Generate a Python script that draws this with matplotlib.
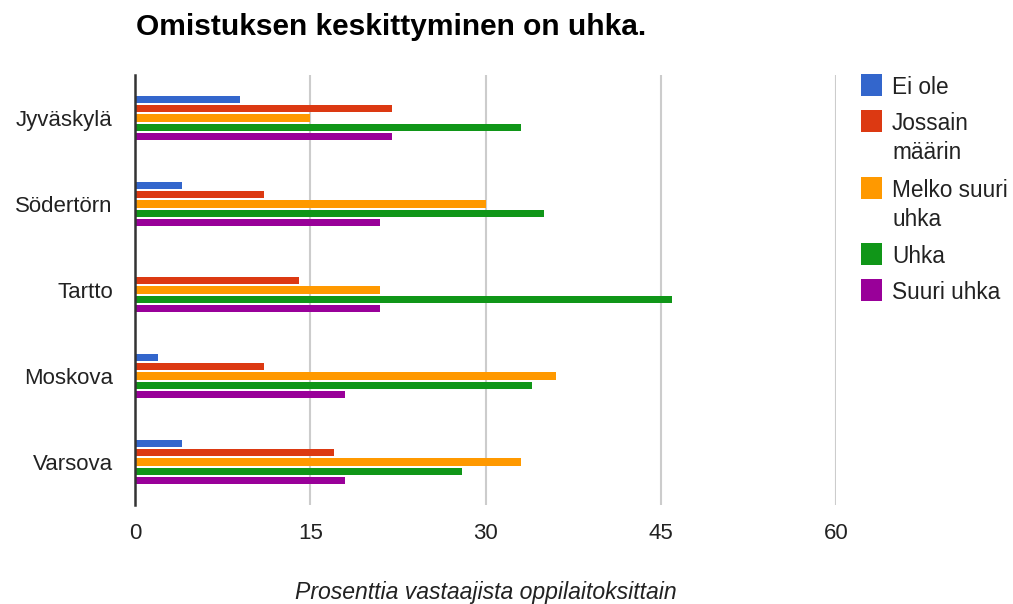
import matplotlib
matplotlib.use("Agg")
import matplotlib.pyplot as plt
from matplotlib.patches import Rectangle

# data
cities = ["Jyväskylä", "Södertörn", "Tartto", "Moskova", "Varsova"]
series = ["Ei ole", "Jossain\nmäärin", "Melko suuri\nuhka", "Uhka", "Suuri uhka"]
colors = ["#3366cc", "#dc3912", "#ff9900", "#109618", "#990099"]

ei_ole = [9, 4, 0, 2, 4]
jossain = [22, 11, 14, 11, 17]
melko = [15, 30, 21, 36, 33]
uhka = [33, 35, 46, 34, 28]
suuri = [22, 21, 21, 18, 18]
values = [ei_ole, jossain, melko, uhka, suuri]

xticks = [0, 15, 30, 45, 60]

plt.rcParams["font.family"] = ["Liberation Sans", "DejaVu Sans"]

W, H = 1013, 604
fig = plt.figure(figsize=(W / 100, H / 100), dpi=100)
ax = fig.add_axes([135 / W, 1 - 505 / H, (836 - 135) / W, (505 - 75) / H])

pitch = 0.109
height = 0.086
for j, (vals, col) in enumerate(zip(values, colors)):
    ys = [i + (j - 2) * pitch for i in range(len(cities))]
    ax.barh(ys, vals, height=height, color=col, edgecolor="none", zorder=3)

ax.set_xlim(0, 60)
ax.set_ylim(len(cities) - 0.5, -0.5)
ax.set_xticks(xticks)
ax.set_xticklabels([str(t) for t in xticks])
ax.set_yticks(range(len(cities)))
ax.set_yticklabels(cities)
ax.tick_params(axis="both", length=0, labelsize=16, colors="#222222")
ax.tick_params(axis="x", pad=13)
ax.tick_params(axis="y", pad=16)

ax.grid(axis="x", color="#cccccc", linewidth=1.5, zorder=0)
for s in ["top", "right", "bottom"]:
    ax.spines[s].set_visible(False)
ax.spines["left"].set_color("#333333")
ax.spines["left"].set_linewidth(1.8)
ax.spines["left"].set_zorder(4)

fig.text(136 / W, 1 - 27 / H, "Omistuksen keskittyminen on uhka.",
         fontsize=21.5, fontweight="bold", color="black", va="center", ha="left")
fig.text(486 / W, 1 - 592 / H, "Prosenttia vastaajista oppilaitoksittain",
         fontsize=16.6, style="italic", color="#222222", ha="center", va="center")

# legend drawn by hand to get the wrapped labels right
leg_y = [85, 121, 188, 254, 290]
for lab, col, yc in zip(series, colors, leg_y):
    fig.patches.append(Rectangle((861 / W, 1 - (yc + 11) / H), 21 / W, 22 / H,
                                 transform=fig.transFigure, facecolor=col,
                                 edgecolor="none"))
    for k, line in enumerate(lab.split("\n")):
        fig.text(892 / W, 1 - (yc + 29 * k) / H, line, fontsize=16.3,
                 color="#222222", ha="left", va="center_baseline")

fig.savefig("out.png", dpi=100)
